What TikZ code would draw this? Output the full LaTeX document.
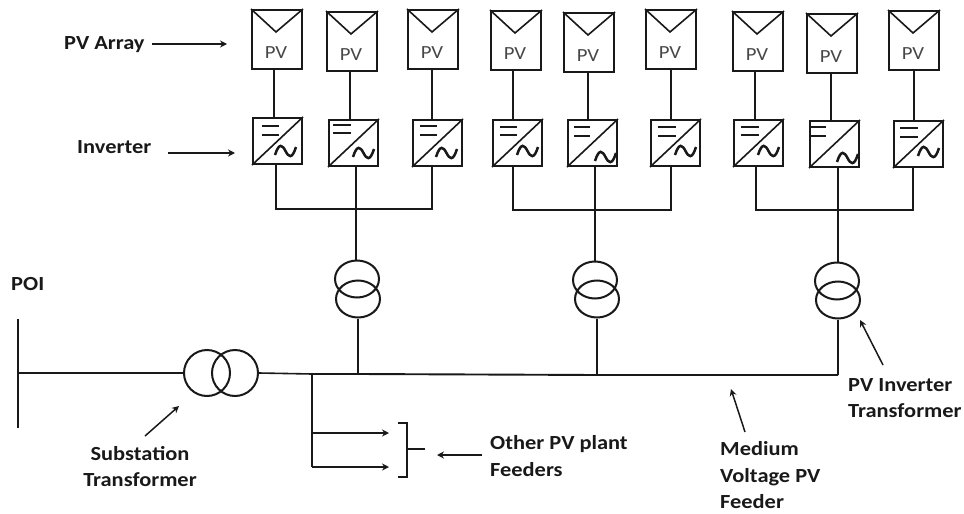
\documentclass[tikz,border=0pt]{standalone}
\usepackage{fontspec}
\setmainfont{Carlito}[FakeStretch=1.12]
\usetikzlibrary{shapes.geometric,arrows.meta}
\definecolor{ink}{gray}{0.1}
\tikzset{
  x=1pt,y=-1pt,
  wire/.style={draw=ink,line width=1.9pt},
  thin wire/.style={draw=ink,line width=1.6pt},
  pointer/.style={draw=ink,line width=1.5pt,-{Stealth[length=7pt,width=7pt]}},
  pvframe/.style={draw=ink,line width=2pt,rectangle,inner sep=0pt,minimum width=50pt,minimum height=59pt},
  invframe/.style={draw=ink,line width=2pt,rectangle,inner sep=0pt,minimum width=49pt,minimum height=46pt},
  winding/.style={draw=ink,line width=2pt,ellipse,inner sep=0pt,minimum width=44pt,minimum height=37pt},
  subwinding/.style={draw=ink,line width=2pt,ellipse,inner sep=0pt,minimum width=46pt,minimum height=46pt},
  pvtext/.style={text=ink!80,font=\fontsize{18.5}{18.5}\selectfont,inner sep=0pt},
  caption/.style={text=ink,font=\fontsize{20}{26.5}\bfseries\selectfont,inner sep=0pt,align=left},
  captionc/.style={caption,align=center}
}
% name, left, top
\newcommand{\pvunit}[3]{%
  \node[pvframe,anchor=north west] (#1) at (#2,#3) {};
  \draw[thin wire,line join=miter] (#1.north west) -- ([xshift=-1pt,yshift=-23pt]#1.north) -- (#1.north east);
  \node[pvtext] (#1t) at ([xshift=-1pt,yshift=-13pt]#1.center) {PV};
}
% name, left, top, barL, barR, barY1, barY2, tildeL, tildeY
\newcommand{\invunit}[9]{%
  \node[invframe,anchor=north west] (#1) at (#2,#3) {};
  \draw[thin wire] (#1.south west) -- (#1.north east);
  \begin{scope}[shift={(#2,#3)}]
    \draw[draw=ink,line width=2.3pt] (#4,#6) -- (#5,#6);
    \draw[draw=ink,line width=2.3pt] (#4,#7) -- (#5,#7);
    \pgfmathsetmacro{\tl}{#8}
    \pgfmathsetmacro{\tw}{21}
    \pgfmathsetmacro{\ty}{#9}
    \draw[draw=ink,line width=2.5pt]
      (\tl,\ty+4) .. controls (\tl+0.2*\tw,\ty-9) and (\tl+0.35*\tw,\ty-6) .. (\tl+0.5*\tw,\ty)
      .. controls (\tl+0.65*\tw,\ty+6) and (\tl+0.8*\tw,\ty+9) .. (\tl+\tw,\ty-4);
  \end{scope}
}
\begin{document}
\begin{tikzpicture}
\useasboundingbox (0,0) rectangle (964,514);
\fill[white] (0,0) rectangle (964,514);

% PV modules
\pvunit{pv1}{251}{9}
\pvunit{pv2}{326}{11}
\pvunit{pv3}{407}{9}
\pvunit{pv4}{490}{10}
\pvunit{pv5}{563}{12}
\pvunit{pv6}{645}{9}
\pvunit{pv7}{732}{11}
\pvunit{pv8}{806}{13}
\pvunit{pv9}{888}{10}

% inverters
\invunit{inv1}{252}{117}{10}{27}{9}{18}{23}{34}
\invunit{inv2}{328}{119}{5}{23}{6}{14}{25}{34}
\invunit{inv3}{412}{119}{8}{25}{7}{16}{24}{34}
\invunit{inv4}{492}{119}{8}{25}{8}{16}{25}{32}
\invunit{inv5}{567}{119}{7}{23}{8}{17}{28}{38}
\invunit{inv6}{650}{119}{8}{26}{8}{17}{25}{32}
\invunit{inv7}{733}{119}{8}{26}{8}{16}{25}{32}
\invunit{inv8}{809}{120}{0}{17}{7}{16}{28}{38}
\invunit{inv9}{893}{120}{7}{25}{8}{17}{25}{32}

% PV to inverter
\draw[wire] (274,0 |- pv1.south) -- (274,0 |- inv1.north);
\draw[wire] (350,0 |- pv2.south) -- (350,0 |- inv2.north);
\draw[wire] (432,0 |- pv3.south) -- (432,0 |- inv3.north);
\draw[wire] (513,0 |- pv4.south) -- (513,0 |- inv4.north);
\draw[wire] (588,0 |- pv5.south) -- (588,0 |- inv5.north);
\draw[wire] (671,0 |- pv6.south) -- (671,0 |- inv6.north);
\draw[wire] (755,0 |- pv7.south) -- (755,0 |- inv7.north);
\draw[wire] (831,0 |- pv8.south) -- (831,0 |- inv8.north);
\draw[wire] (914,0 |- pv9.south) -- (914,0 |- inv9.north);

% pad-mount transformers
\node[winding] (t1a) at (357,279) {};
\node[winding] (t1b) at (358,299) {};
\node[winding] (t2a) at (595,280) {};
\node[winding] (t2b) at (597,299) {};
\node[winding] (t3a) at (837,281) {};
\node[winding] (t3b) at (838,300) {};

% inverter collection
\draw[wire] (276,0 |- inv1.south) |- (432,209) -- (432,0 |- inv3.south);
\draw[wire] (356,0 |- inv2.south) -- (356,0 |- t1a.north);
\draw[wire] (513,0 |- inv4.south) |- (671,210) -- (671,0 |- inv6.south);
\draw[wire] (595,0 |- inv5.south) -- (595,0 |- t2a.north);
\draw[wire] (756,0 |- inv7.south) |- (913,210) -- (913,0 |- inv9.south);
\draw[wire] (838,0 |- inv8.south) -- (838,0 |- t3a.north);

% substation
\node[subwinding] (sa) at (207,373) {};
\node[subwinding] (sb) at (235,373) {};
\coordinate (poiT) at (18,319);
\coordinate (poiB) at (18,428);
\coordinate (poiM) at (18,373);
\coordinate (jn) at (312,374);
\coordinate (bus1) at (358,374);
\coordinate (bus2) at (597,375);
\coordinate (bus3) at (838,375);
\draw[thin wire] (poiT) -- (poiB);
\draw[thin wire] (poiM) -- (sa.west);
\draw[thin wire] (sb.east) -- (jn);
\draw[wire] (jn) -- (bus1) -- (bus2) -- (bus3);
\draw[wire] (t1b.south) -- (bus1);
\draw[wire] (t2b.south) -- (bus2);
\draw[wire] (t3b.south) -- (bus3);

% other feeders
\coordinate (fa0) at (312,433);
\coordinate (fa1) at (389,433);
\coordinate (fb0) at (312,467);
\coordinate (fb1) at (389,467);
\draw[wire] (jn) -- (fb0);
\draw[thin wire,-{Stealth[length=7pt,width=7pt]}] (fa0) -- (fa1);
\draw[thin wire,-{Stealth[length=7pt,width=7pt]}] (fb0) -- (fb1);
\coordinate (brT) at (398,423);
\coordinate (brB) at (398,477);
\coordinate (brM) at (407,449);
\coordinate (brE) at (425,449);
\draw[thin wire] (brT) -- ++(9,0) -- (407,477) -- (brB);
\draw[thin wire] (brM) -- (brE);

% captions
\node[caption,anchor=west] (lpv) at (64,45) {PV Array};
\node[caption,anchor=west] (linv) at (77,147) {Inverter};
\node[caption,anchor=west] (lpoi) at (11,284) {POI};
\node[captionc] (lsub) at (140,466.5) {Substation\\Transformer};
\node[caption,anchor=west] (loth) at (490,456) {Other PV plant\\Feeders};
\node[caption,anchor=west] (lmv) at (720,475.5) {Medium\\Voltage PV\\Feeder};
\node[caption,anchor=west] (lpvt) at (848,398) {PV Inverter\\Transformer};

% pointers
\coordinate (a1s) at (152,44); \coordinate (a1e) at (227,44);
\coordinate (a2s) at (168,153); \coordinate (a2e) at (235,153);
\coordinate (a3s) at (145,436); \coordinate (a3e) at (179,406);
\coordinate (a4s) at (482,455); \coordinate (a4e) at (437,455);
\coordinate (a5s) at (745,432); \coordinate (a5e) at (731,389);
\coordinate (a6s) at (883,365); \coordinate (a6e) at (860,320);
\draw[pointer] (a1s) -- (a1e);
\draw[pointer] (a2s) -- (a2e);
\draw[pointer] (a3s) -- (a3e);
\draw[pointer] (a4s) -- (a4e);
\draw[pointer] (a5s) -- (a5e);
\draw[pointer] (a6s) -- (a6e);
\end{tikzpicture}
\end{document}
